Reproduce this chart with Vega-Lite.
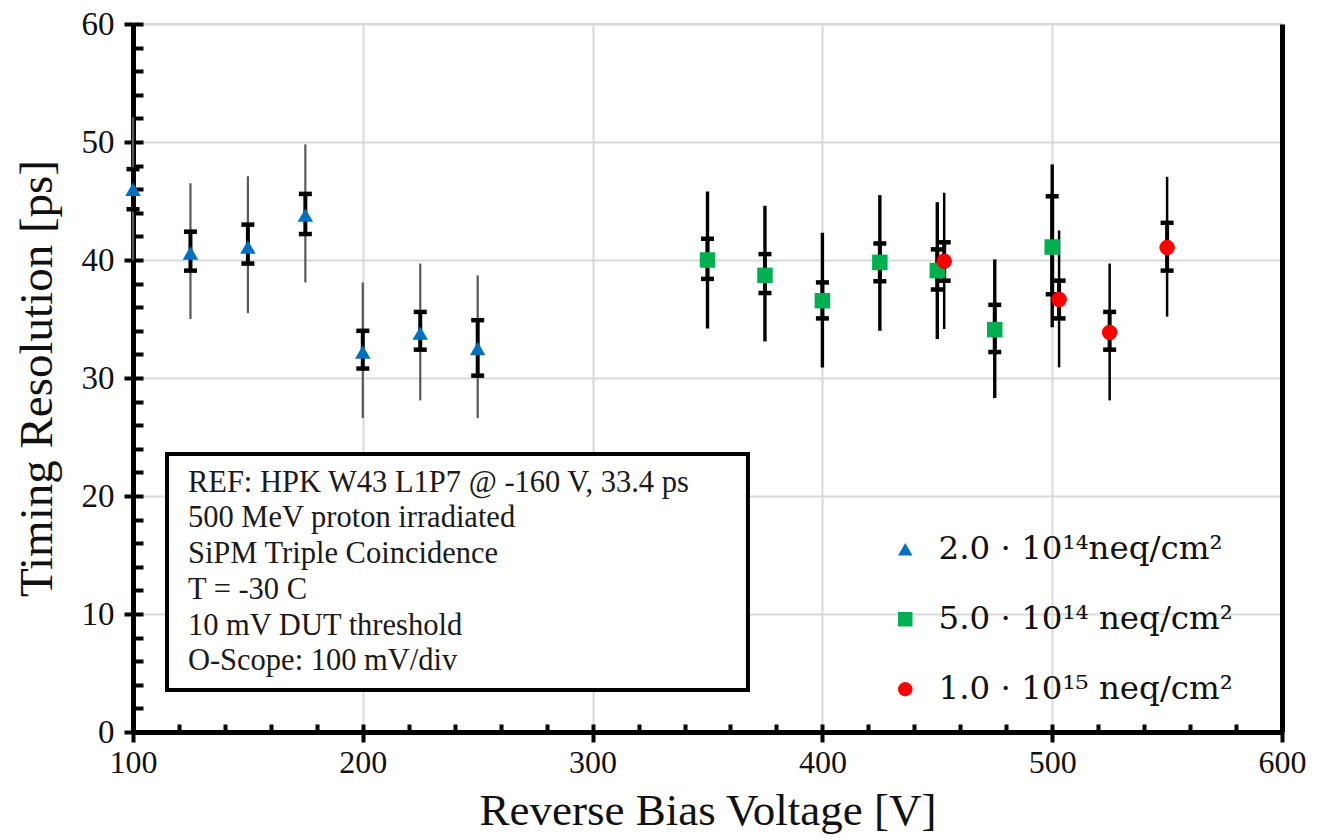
{
  "$schema": "https://vega.github.io/schema/vega-lite/v6.json",
  "width": 1149,
  "height": 708,
  "autosize": "none",
  "padding": {"left": 133, "top": 24, "right": 40, "bottom": 108},
  "background": "white",
  "config": {
    "view": {"stroke": "#d9d9d9", "strokeWidth": 2},
    "font": "Liberation Serif",
    "legend": {
      "orient": "none",
      "legendX": 756,
      "legendY": 509,
      "padding": 0,
      "labelFont": "DejaVu Serif",
      "labelFontSize": 32.5,
      "labelColor": "#111111",
      "labelOffset": 17,
      "rowPadding": 37,
      "symbolSize": 210,
      "symbolStrokeWidth": 0,
      "labelLimit": 600
    }
  },
  "datasets": {
    "pts": [
      {"series": "2.0 · 10¹⁴neq/cm²", "V": 100, "t": 46.0, "slo": 44.3, "shi": 47.7, "tlo": 40.0, "thi": 52.1},
      {"series": "2.0 · 10¹⁴neq/cm²", "V": 125, "t": 40.6, "slo": 39.1, "shi": 42.4, "tlo": 35.0, "thi": 46.5},
      {"series": "2.0 · 10¹⁴neq/cm²", "V": 150, "t": 41.1, "slo": 39.7, "shi": 43.0, "tlo": 35.5, "thi": 47.1},
      {"series": "2.0 · 10¹⁴neq/cm²", "V": 175, "t": 43.8, "slo": 42.2, "shi": 45.6, "tlo": 38.1, "thi": 49.8},
      {"series": "2.0 · 10¹⁴neq/cm²", "V": 200, "t": 32.2, "slo": 30.8, "shi": 34.0, "tlo": 26.6, "thi": 38.1},
      {"series": "2.0 · 10¹⁴neq/cm²", "V": 225, "t": 33.8, "slo": 32.4, "shi": 35.6, "tlo": 28.1, "thi": 39.7},
      {"series": "2.0 · 10¹⁴neq/cm²", "V": 250, "t": 32.5, "slo": 30.2, "shi": 34.9, "tlo": 26.6, "thi": 38.7},
      {"series": "5.0 · 10¹⁴ neq/cm²", "V": 350, "t": 40.0, "slo": 38.4, "shi": 41.8, "tlo": 34.2, "thi": 45.8},
      {"series": "5.0 · 10¹⁴ neq/cm²", "V": 375, "t": 38.7, "slo": 37.2, "shi": 40.5, "tlo": 33.1, "thi": 44.6},
      {"series": "5.0 · 10¹⁴ neq/cm²", "V": 400, "t": 36.55, "slo": 35.05, "shi": 38.1, "tlo": 30.9, "thi": 42.3},
      {"series": "5.0 · 10¹⁴ neq/cm²", "V": 425, "t": 39.8, "slo": 38.2, "shi": 41.4, "tlo": 34.0, "thi": 45.5},
      {"series": "5.0 · 10¹⁴ neq/cm²", "V": 450, "t": 39.1, "slo": 37.5, "shi": 40.9, "tlo": 33.3, "thi": 44.9},
      {"series": "5.0 · 10¹⁴ neq/cm²", "V": 475, "t": 34.1, "slo": 32.2, "shi": 36.2, "tlo": 28.3, "thi": 40.05},
      {"series": "5.0 · 10¹⁴ neq/cm²", "V": 500, "t": 41.1, "slo": 37.1, "shi": 45.4, "tlo": 34.3, "thi": 48.1},
      {"series": "1.0 · 10¹⁵ neq/cm²", "V": 453, "t": 39.9, "slo": 38.25, "shi": 41.5, "tlo": 34.15, "thi": 45.7},
      {"series": "1.0 · 10¹⁵ neq/cm²", "V": 503, "t": 36.65, "slo": 35.05, "shi": 38.25, "tlo": 30.9, "thi": 42.5},
      {"series": "1.0 · 10¹⁵ neq/cm²", "V": 525, "t": 33.85, "slo": 32.4, "shi": 35.6, "tlo": 28.1, "thi": 39.7},
      {"series": "1.0 · 10¹⁵ neq/cm²", "V": 550, "t": 41.05, "slo": 39.1, "shi": 43.15, "tlo": 35.2, "thi": 47.05}
    ]
  },
  "layer": [
    {
      "data": {"values": [{"box": "note"}]},
      "mark": {"type": "rect", "fill": "white", "stroke": "black", "strokeWidth": 4},
      "encoding": {
        "x": {"datum": 114.8, "type": "quantitative", "axis": null},
        "x2": {"datum": 367.6},
        "y": {"datum": 23.56, "type": "quantitative", "axis": null},
        "y2": {"datum": 3.56}
      }
    },
    {
      "data": {"values": [{"note": "REF: HPK W43 L1P7 @ -160 V, 33.4 ps\n500 MeV proton irradiated\nSiPM Triple Coincidence\nT = -30 C\n10 mV DUT threshold\nO-Scope: 100 mV/div"}]},
      "mark": {"type": "text", "align": "left", "baseline": "alphabetic", "lineBreak": "\n", "lineHeight": 35.7, "font": "Liberation Serif", "fontSize": 30.5, "color": "#1a1a1a"},
      "encoding": {
        "x": {"datum": 123.9, "type": "quantitative", "axis": null},
        "y": {"datum": 20.36, "type": "quantitative", "axis": null},
        "text": {"field": "note", "type": "nominal"}
      }
    },
    {
      "data": {"name": "pts"},
      "mark": {"type": "rule"},
      "encoding": {
        "x": {
          "field": "V", "type": "quantitative",
          "scale": {"domain": [100, 600], "nice": false, "zero": false},
          "axis": {
            "orient": "bottom",
            "values": [100, 200, 300, 400, 500, 600], "format": "d",
            "tickSize": 10, "tickWidth": 4, "tickColor": "black",
            "domainColor": "black", "domainWidth": 5,
            "grid": true, "gridColor": "#d9d9d9", "gridWidth": 2,
            "labelFont": "Liberation Serif", "labelFontSize": 32, "labelColor": "#111111", "labelPadding": 5,
            "labelFlush": false, "labelOverlap": false,
            "title": "Reverse Bias Voltage [V]", "titleFont": "Liberation Serif", "titleFontSize": 45,
            "titleFontWeight": "normal", "titleColor": "#111111", "titlePadding": 10
          }
        },
        "y": {
          "field": "tlo", "type": "quantitative",
          "scale": {"domain": [0, 60], "nice": false},
          "axis": {
            "orient": "left",
            "values": [0, 10, 20, 30, 40, 50, 60], "format": "d",
            "tickSize": 9, "tickWidth": 4, "tickColor": "black",
            "domainColor": "black", "domainWidth": 5,
            "grid": true, "gridColor": "#d9d9d9", "gridWidth": 2,
            "labelFont": "Liberation Serif", "labelFontSize": 33, "labelColor": "#111111", "labelPadding": 10,
            "labelFlush": false, "labelOverlap": false,
            "title": "Timing Resolution [ps]", "titleFont": "Liberation Serif", "titleFontSize": 47,
            "titleFontWeight": "normal", "titleColor": "#111111", "titlePadding": 20
          }
        },
        "y2": {"field": "thi"},
        "color": {"condition": {"test": "indexof(datum.series, '2.0') === 0", "value": "#595959"}, "value": "black"},
        "strokeWidth": {"condition": [
          {"test": "indexof(datum.series, '2.0') === 0", "value": 2.2},
          {"test": "indexof(datum.series, '1.0') === 0", "value": 2.5}
        ], "value": 3.4}
      }
    },
    {
      "data": {"name": "pts"},
      "mark": {"type": "rule", "color": "black", "strokeWidth": 4},
      "encoding": {
        "x": {
          "field": "V", "type": "quantitative",
          "axis": {
            "orient": "bottom",
            "values": [100, 120, 140, 160, 180, 200, 220, 240, 260, 280, 300, 320, 340, 360, 380, 400, 420, 440, 460, 480, 500, 520, 540, 560, 580, 600],
            "tickSize": -8, "tickWidth": 4, "tickColor": "black",
            "domain": false, "grid": false, "labels": false, "title": null
          }
        },
        "y": {
          "field": "slo", "type": "quantitative",
          "axis": {
            "values": [0, 2, 4, 6, 8, 10, 12, 14, 16, 18, 20, 22, 24, 26, 28, 30, 32, 34, 36, 38, 40, 42, 44, 46, 48, 50, 52, 54, 56, 58, 60],
            "orient": "left",
            "tickSize": -10, "tickWidth": 4, "tickColor": "black",
            "domain": false, "grid": false, "labels": false, "title": null
          }
        },
        "y2": {"field": "shi"}
      }
    },
    {
      "data": {"name": "pts"},
      "mark": {"type": "tick", "orient": "horizontal", "size": 13, "thickness": 4.5, "color": "black", "opacity": 1},
      "encoding": {
        "x": {"field": "V", "type": "quantitative", "axis": null},
        "y": {"field": "slo", "type": "quantitative", "axis": null}
      }
    },
    {
      "data": {"name": "pts"},
      "mark": {"type": "tick", "orient": "horizontal", "size": 13, "thickness": 4.5, "color": "black", "opacity": 1},
      "encoding": {
        "x": {"field": "V", "type": "quantitative", "axis": null},
        "y": {"field": "shi", "type": "quantitative", "axis": null}
      }
    },
    {
      "data": {"name": "pts"},
      "mark": {"type": "point", "filled": true, "size": 240, "opacity": 1, "strokeWidth": 0},
      "encoding": {
        "x": {"field": "V", "type": "quantitative", "axis": null},
        "y": {
          "field": "t", "type": "quantitative",
          "axis": {"orient": "right", "domainColor": "black", "domainWidth": 5, "ticks": false, "labels": false, "grid": false, "title": null}
        },
        "color": {
          "field": "series", "type": "nominal",
          "scale": {"domain": ["2.0 · 10¹⁴neq/cm²", "5.0 · 10¹⁴ neq/cm²", "1.0 · 10¹⁵ neq/cm²"], "range": ["#0070C0", "#00B050", "#FF0000"]},
          "legend": {"title": null}
        },
        "shape": {
          "field": "series", "type": "nominal",
          "scale": {"domain": ["2.0 · 10¹⁴neq/cm²", "5.0 · 10¹⁴ neq/cm²", "1.0 · 10¹⁵ neq/cm²"], "range": ["triangle-up", "square", "circle"]},
          "legend": {"title": null}
        }
      }
    }
  ],
  "resolve": {"axis": {"x": "independent", "y": "independent"}}
}
